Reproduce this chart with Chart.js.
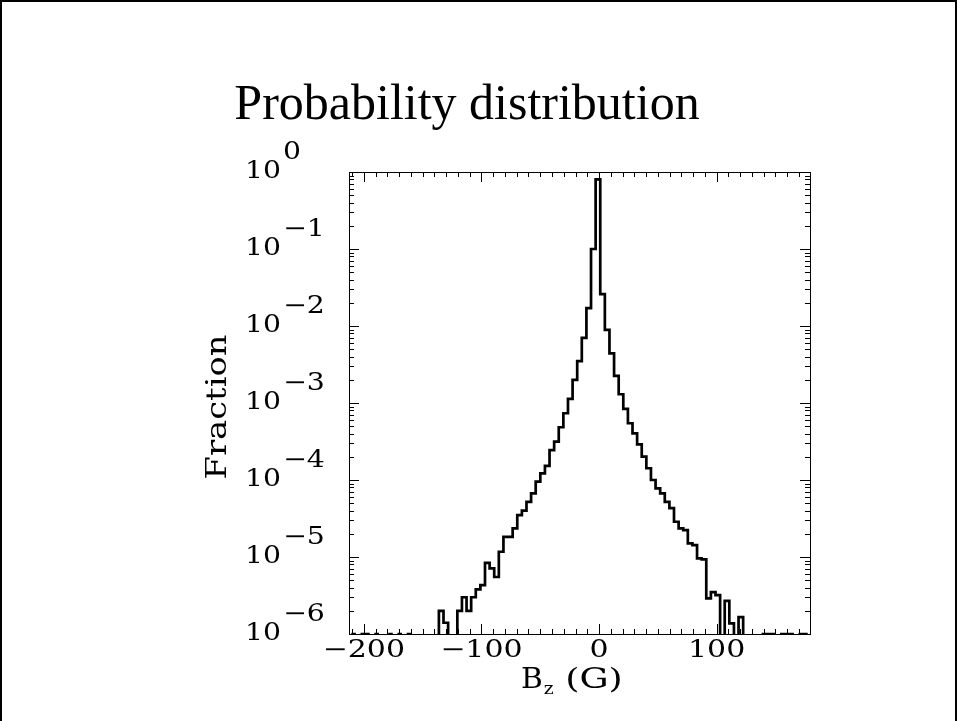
<!DOCTYPE html>
<html>
<head>
<meta charset="utf-8">
<script src="https://cdn.jsdelivr.net/npm/chart.js@4/dist/chart.umd.min.js"></script>
<style>
html,body{margin:0;padding:0;background:#fff;}
#wrap{width:957px;height:721px;position:relative;}
canvas{display:block;}
</style>
</head>
<body>
<div id="wrap"><canvas id="c" width="957" height="721"></canvas></div>
<script>
// ---- data ----
const binCenters = [
 -212.60,-208.68,-204.76,-200.84,-196.92,-193.00,-189.08,-185.16,-181.24,-177.32,
 -173.40,-169.48,-165.56,-161.64,-157.72,-153.80,-149.88,-145.96,-142.04,-138.12,
 -134.20,-130.28,-126.36,-122.44,-118.52,-114.60,-110.68,-106.76,-102.84,-98.92,
 -95.00,-91.08,-87.16,-83.24,-79.32,-75.40,-71.48,-67.56,-63.64,-59.72,
 -55.80,-51.88,-47.96,-44.04,-40.12,-36.20,-32.28,-28.36,-24.44,-20.52,
 -16.60,-12.68,-8.76,-4.84,-0.92,3.00,6.92,10.84,14.76,18.68,
 22.60,26.52,30.44,34.36,38.28,42.20,46.12,50.04,53.96,57.88,
 61.80,65.72,69.64,73.56,77.48,81.40,85.32,89.24,93.16,97.08,
 101.00,104.92,108.84,112.76,116.68,120.60,124.52,128.44,132.36,136.28,
 140.20,144.12,148.04,151.96,155.88,159.80,163.72,167.64,171.56,175.48,
 179.40
];
const binWidth = 3.92;
const fraction = [
 0,1e-6,0,1e-6,1e-6,0,1e-6,0,0,1e-6,
 0,1e-6,0,1e-6,0,0,0,0,0,0,
 2.0e-6,1.4e-6,0,0,2.0e-6,3.0e-6,2.0e-6,3.0e-6,3.8e-6,4.3e-6,
 8.4e-6,7.1e-6,5.5e-6,1.17e-5,1.83e-5,1.83e-5,2.35e-5,3.5e-5,4.0e-5,5.2e-5,
 6.7e-5,9.5e-5,1.22e-4,1.53e-4,2.45e-4,3.15e-4,4.84e-4,7.36e-4,1.13e-3,2.0e-3,
 3.5e-3,7.0e-3,1.71e-2,0.1,0.8,0.026,0.0089,0.0044,0.00225,0.0013,
 8.4e-4,5.46e-4,4.04e-4,2.91e-4,2.01e-4,1.42e-4,1.0e-4,7.8e-5,6.7e-5,5.2e-5,
 4.3e-5,2.87e-5,2.35e-5,2.24e-5,1.5e-5,1.43e-5,9.6e-6,9.3e-6,2.9e-6,3.5e-6,
 3.2e-6,0,2.7e-6,1.37e-6,0,1.66e-6,0,0,0,0,
 1e-6,1e-6,1e-6,0,1e-6,1e-6,1e-6,0,1e-6,1e-6,
 0
];
const xTickValues = [-200,-100,0,100];
const xTickLabels = ['\u2212200','\u2212100','0','100'];
const yTickExponents = [0,-1,-2,-3,-4,-5,-6];
const xRange = [-212.6,179.4];
const yRange = [1e-6,1];
const titleText = 'Probability distribution';
const yTitle = 'Fraction';
const xTitleMain = 'B', xTitleSub = 'z', xTitleRest = ' (G)';

// ---- build step outline from the bins ----
const pts = [];
for (let i = 0; i < binCenters.length; i++) {
  const v = fraction[i];
  const l = binCenters[i] - binWidth / 2, r = binCenters[i] + binWidth / 2;
  if (v > 0) {
    if (i > 0 && fraction[i - 1] === 0) pts.push({x: l, y: yRange[0]});
    pts.push({x: l, y: v}, {x: r, y: v});
    if (i < binCenters.length - 1 && fraction[i + 1] === 0) pts.push({x: r, y: yRange[0]});
  } else {
    pts.push({x: binCenters[i], y: null});
  }
}

const SERIF = '"DejaVu Serif"';
function txt(ctx, s, x, y, size, family, align, sx) {
  ctx.save();
  ctx.font = size + 'px ' + family;
  ctx.textBaseline = 'alphabetic';
  ctx.textAlign = 'left';
  const w = ctx.measureText(s).width * sx;
  const x0 = align === 'center' ? x - w / 2 : (align === 'right' ? x - w : x);
  ctx.translate(x0, y);
  ctx.scale(sx, 1);
  ctx.fillStyle = '#000';
  ctx.fillText(s, 0, 0);
  ctx.restore();
  return w;
}

const decor = {
  id: 'decor',
  afterDraw(chart) {
    const ctx = chart.ctx, a = chart.chartArea;
    const xs = chart.scales.x, ys = chart.scales.y;
    ctx.save();
    ctx.strokeStyle = '#000';
    ctx.fillStyle = '#000';
    // page border
    ctx.lineWidth = 2;
    ctx.beginPath();
    ctx.moveTo(1, 721); ctx.lineTo(1, 1); ctx.lineTo(956, 1); ctx.lineTo(956, 721);
    ctx.stroke();
    // frame
    ctx.lineWidth = 1;
    ctx.strokeRect(Math.round(a.left) + 0.5, Math.round(a.top) + 0.5, Math.round(a.right - a.left), Math.round(a.bottom - a.top));
    // x ticks (every 10, major every 100)
    ctx.beginPath();
    for (let v = -210; v <= 170; v += 10) {
      const px = Math.round(xs.getPixelForValue(v)) + 0.5;
      const len = (v % 100 === 0) ? 10 : 5;
      ctx.moveTo(px, a.bottom); ctx.lineTo(px, a.bottom - len);
      ctx.moveTo(px, a.top); ctx.lineTo(px, a.top + len);
    }
    // y ticks (log decades)
    for (let d = -6; d <= 0; d++) {
      for (let m = 1; m <= 9; m++) {
        const v = m * Math.pow(10, d);
        if (v > yRange[1] * 1.0001) break;
        const py = Math.round(ys.getPixelForValue(v)) + 0.5;
        const len = (m === 1) ? 10 : 5;
        ctx.moveTo(a.left, py); ctx.lineTo(a.left + len, py);
        ctx.moveTo(a.right, py); ctx.lineTo(a.right - len, py);
      }
    }
    ctx.stroke();
    // y tick labels 10^e
    yTickExponents.forEach(e => {
      const py = ys.getPixelForValue(Math.pow(10, e));
      const base = py + 6;
      txt(ctx, '10', 281, base, 24, SERIF, 'right', 1.18);
      const es = e === 0 ? '0' : '\u2212' + Math.abs(e);
      txt(ctx, es, 283, base - 19, 24, SERIF, 'left', 1.18);
    });
    // x tick labels
    xTickValues.forEach((v, i) => {
      const px = xs.getPixelForValue(v);
      txt(ctx, xTickLabels[i], px, 657, 24, SERIF, 'center', 1.25);
    });
    // x title
    let x = 521;
    x += txt(ctx, xTitleMain, x, 688, 27, SERIF, 'left', 1.1);
    x += txt(ctx, xTitleSub, x + 1, 694, 17, SERIF, 'left', 1.1) + 1;
    txt(ctx, xTitleRest, x, 688, 27, SERIF, 'left', 1.35);
    // y title (rotated)
    ctx.save();
    ctx.translate(226, 407);
    ctx.rotate(-Math.PI / 2);
    txt(ctx, yTitle, 0, 0, 27, SERIF, 'center', 1.25);
    ctx.restore();
    // page title
    txt(ctx, titleText, 467, 119, 50, '"Liberation Serif"', 'center', 1.0);
    ctx.restore();
  }
};

new Chart(document.getElementById('c'), {
  type: 'line',
  data: {
    datasets: [{
      data: pts,
      borderColor: '#000',
      borderWidth: 2.7,
      pointRadius: 0,
      tension: 0,
      fill: false,
      spanGaps: false,
      borderCapStyle: 'butt',
      borderJoinStyle: 'miter'
    }]
  },
  options: {
    responsive: false,
    animation: false,
    devicePixelRatio: 1,
    layout: {padding: {left: 349, top: 172, right: 147, bottom: 87}},
    plugins: {legend: {display: false}, tooltip: {enabled: false}, title: {display: false}},
    scales: {
      x: {type: 'linear', min: xRange[0], max: xRange[1], display: false},
      y: {type: 'logarithmic', min: yRange[0], max: yRange[1], display: false}
    }
  },
  plugins: [decor]
});
</script>
</body>
</html>
